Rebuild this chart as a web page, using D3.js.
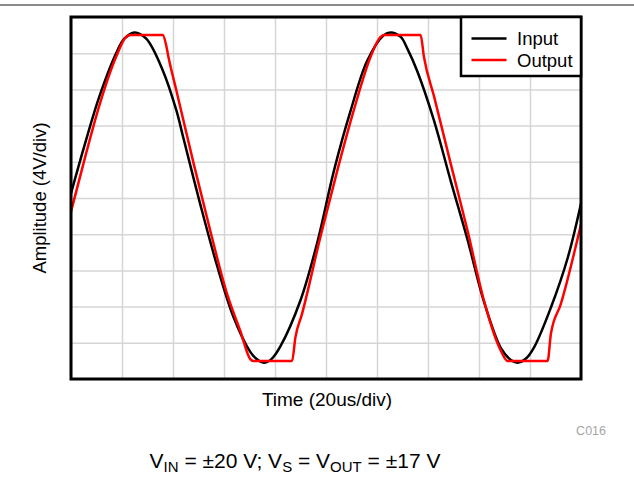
<!DOCTYPE html>
<html><head><meta charset="utf-8">
<script src="https://cdn.jsdelivr.net/npm/d3@7"></script>
<style>
body{margin:0;background:#fff}
svg{display:block}
text{font-family:"Liberation Sans",Arial,Helvetica,sans-serif}
</style>
</head><body>
<svg id="c" width="634" height="477"></svg>
<script>
// time in us (20us/div), amplitude in V (4V/div)
const timeInput = [0, 5.5, 11.1, 17.7, 20.9, 24.9, 29.5, 36.0, 41.3, 44.1, 50.7, 57.2, 63.8, 70.3, 72.8, 75.6, 78.6, 82.1, 90.0, 96.5, 103.1, 109.6, 116.2, 122.7, 125.3, 129.3, 131.9, 135.8, 142.3, 148.9, 155.5, 162.0, 168.6, 172.5, 175.1, 178.2, 181.6, 188.2, 194.8, 200];
const input     = [0.5, 6.0, 11.2, 16.0, 17.6, 18.3, 17.6, 14.1, 9.7, 6.6, -0.7, -7.4, -13.2, -17.0, -17.8, -18.2, -17.8, -16.4, -11.3, -5.0, 3.0, 9.6, 15.2, 18.0, 18.3, 17.8, 16.5, 14.0, 8.6, 1.9, -4.6, -11.5, -16.6, -17.9, -18.2, -17.8, -16.5, -12.1, -6.6, -0.6];
const timeOutput = [0, 5.9, 11.1, 17.7, 21.6, 23.5, 36.0, 37.3, 38.2, 41.3, 48.1, 54.6, 61.2, 66.4, 70.3, 71.5, 86.7, 88.0, 90.6, 97.8, 104.4, 110.9, 117.5, 121.4, 123.0, 137.1, 138.4, 142.4, 148.9, 155.5, 162.0, 168.6, 171.2, 186.9, 188.2, 192.1, 200];
const output     = [-1.5, 4.9, 10.2, 15.6, 17.8, 18.0, 18.0, 16.9, 15.6, 11.9, 3.8, -3.6, -10.6, -14.7, -17.8, -18.0, -18.0, -15.4, -12.8, -4.3, 3.0, 9.7, 15.6, 17.8, 18.0, 18.0, 15.6, 11.2, 3.8, -3.6, -11.4, -16.9, -18.0, -18.0, -15.0, -11.7, -2.9];
const seriesNames = ["Input", "Output"];
const seriesColors = ["#000000", "#ff0000"];
const xGridTicks = [0, 20, 40, 60, 80, 100, 120, 140, 160, 180, 200];
const yGridTicks = [-20, -16, -12, -8, -4, 0, 4, 8, 12, 16, 20];
const xTitle = "Time (20us/div)";
const yTitle = "Amplitude (4V/div)";
const figureId = "C016";

const svg = d3.select("#c");
const L = 71, R = 581, T = 17, B = 379;
const x = d3.scaleLinear().domain([0, 200]).range([L, R]);
const y = d3.scaleLinear().domain([-20, 20]).range([B, T]);

// top rule
svg.append("line").attr("x1", 0).attr("x2", 634).attr("y1", 5).attr("y2", 5)
  .attr("stroke", "#8a8a8a").attr("stroke-width", 2);

// grid via axes
const gx = svg.append("g").attr("transform", `translate(0,${B})`)
  .call(d3.axisBottom(x).tickValues(xGridTicks).tickSize(-(B - T)).tickFormat(""));
const gy = svg.append("g").attr("transform", `translate(${L},0)`)
  .call(d3.axisLeft(y).tickValues(yGridTicks).tickSize(-(R - L)).tickFormat(""));
[gx, gy].forEach(g => {
  g.select(".domain").remove();
  g.selectAll(".tick line").attr("stroke", "#d6d6d6").attr("stroke-width", 1.5);
});

// series
svg.append("clipPath").attr("id", "pc").append("rect")
  .attr("x", L).attr("y", T).attr("width", R - L).attr("height", B - T);
const curves = [d3.curveCatmullRom.alpha(0.5), d3.curveMonotoneX];
const series = [d3.zip(timeInput, input), d3.zip(timeOutput, output)];
series.forEach((s, i) => {
  const line = d3.line().x(d => x(d[0])).y(d => y(d[1])).curve(curves[i]);
  svg.append("path").datum(s).attr("d", line).attr("fill", "none")
    .attr("stroke", seriesColors[i]).attr("stroke-width", 2.5)
    .attr("stroke-linejoin", "round").attr("clip-path", "url(#pc)");
});

// plot frame
svg.append("rect").attr("x", L).attr("y", T).attr("width", R - L).attr("height", B - T)
  .attr("fill", "none").attr("stroke", "#000").attr("stroke-width", 3);

// legend
const lg = svg.append("g");
lg.append("rect").attr("x", 461).attr("y", T).attr("width", R - 461).attr("height", 59)
  .attr("fill", "#fff").attr("stroke", "#000").attr("stroke-width", 2.5);
seriesNames.forEach((n, i) => {
  const yy = 38.5 + i * 21.5;
  lg.append("line").attr("x1", 471.5).attr("x2", 506.5).attr("y1", yy).attr("y2", yy)
    .attr("stroke", seriesColors[i]).attr("stroke-width", 2.5);
  lg.append("text").attr("x", 517).attr("y", yy + 6.5).attr("font-size", 18.5)
    .attr("fill", "#000").text(n);
});

// axis titles
svg.append("text").attr("x", (L + R) / 2 + 1).attr("y", 406).attr("text-anchor", "middle")
  .attr("font-size", 19).text(xTitle);
svg.append("text").attr("transform", `translate(46,${(T + B) / 2}) rotate(-90)`)
  .attr("text-anchor", "middle").attr("font-size", 18.5).text(yTitle);

// figure id
svg.append("text").attr("x", 606).attr("y", 435).attr("text-anchor", "end")
  .attr("font-size", 12.5).attr("fill", "#a6a6a6").text(figureId);

// caption
const cap = svg.append("text").attr("x", 295).attr("y", 468).attr("text-anchor", "middle")
  .attr("font-size", 21).attr("fill", "#000");
const parts = [["V", 0], ["IN", 1], [" = ±20 V; V", 0], ["S", 1], [" = V", 0], ["OUT", 1], [" = ±17 V", 0]];
parts.forEach(([t, sub], i) => {
  const prev = i > 0 ? parts[i - 1][1] : 0;
  const ts = cap.append("tspan").text(t)
    .attr("dy", sub && !prev ? 4 : (!sub && prev ? -4 : 0));
  if (sub) ts.attr("font-size", 15);
});
</script>
</body></html>
